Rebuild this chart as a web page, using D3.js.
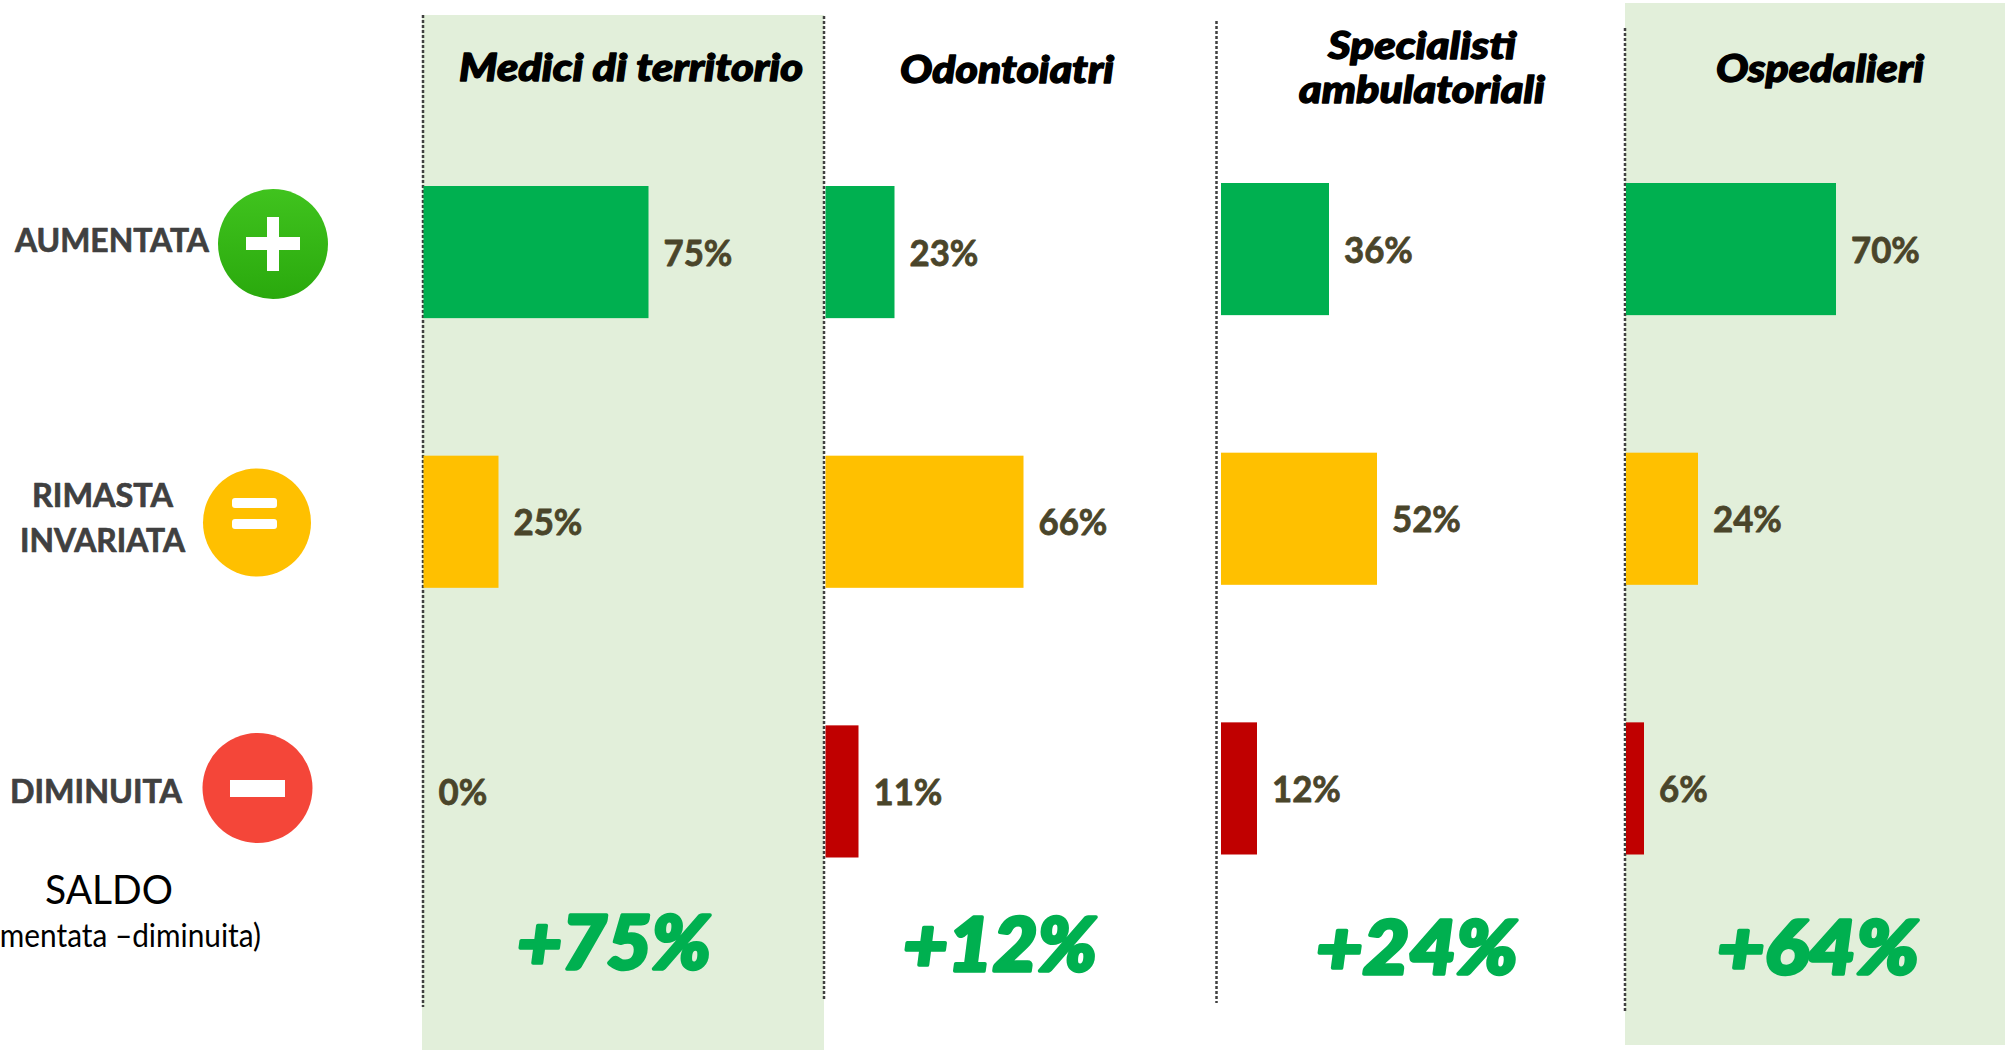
<!DOCTYPE html>
<html>
<head>
<meta charset="utf-8">
<script src="https://d3js.org/d3.v7.min.js"></script>
<style>
  body { margin: 0; background: #fff; overflow: hidden; }
  svg { display: block; }
  text { font-family: Lato, Carlito, sans-serif; stroke-linejoin: round; }
</style>
</head>
<body>
<div id="my_dataviz"></div>

<script>

  // the data
  const groups = ["Medici di territorio", "Odontoiatri", "Specialisti ambulatoriali", "Ospedalieri"]
  const rows = ["aumentata", "invariata", "diminuita"]
  const aumentata = [75, 23, 36, 70]
  const invariata = [25, 66, 52, 24]
  const diminuita = [0, 11, 12, 6]
  const saldo = [75, 12, 24, 64]

  const rowColors = ["#00b050", "#ffc000", "#c00000"]

  const width = 2005, height = 1050

  // where each column sits on the slide: bar start, vertical shift, dotted line
  const columns = [
    {x0: 423.5, dy: 0, line: 423, lineTop: 15, lineBottom: 1007, bg: [422, 15, 402, 1035]},
    {x0: 825.5, dy: 0, line: 824, lineTop: 16, lineBottom: 1000},
    {x0: 1221, dy: -3, line: 1216.5, lineTop: 21, lineBottom: 1003},
    {x0: 1626, dy: -3, line: 1625, lineTop: 28, lineBottom: 1011, bg: [1625, 3, 380, 1042]}
  ]

  // title lines: text, left, right, baseline
  const titleLines = [
    ["Medici di territorio", 459, 803, 81],
    ["Odontoiatri", 900, 1114, 83],
    ["Specialisti", 1328, 1516, 59],
    ["ambulatoriali", 1299, 1545, 103],
    ["Ospedalieri", 1716, 1924, 82]
  ]

  const saldoPos = [[517, 711, 969], [903, 1097, 971], [1316, 1518, 974], [1717, 1919, 974]]

  const svg = d3.select("#my_dataviz")
    .append("svg")
      .attr("width", width)
      .attr("height", height)

  // length of a bar in px, 3px for each percent point
  const x = d3.scaleLinear()
    .domain([0, 100])
    .range([0, 300])

  const y = d3.scaleBand()
    .domain(rows)
    .range([186, 857.5])
    .paddingInner(0.51)

  // green background of the first and last column
  svg.selectAll(".bg")
    .data(columns.filter(d => d.bg))
    .join("rect")
      .attr("class", "bg")
      .attr("x", d => d.bg[0])
      .attr("y", d => d.bg[1])
      .attr("width", d => d.bg[2])
      .attr("height", d => d.bg[3])
      .style("fill", "#e2efda")

  // dotted separators
  svg.selectAll(".sep")
    .data(columns)
    .join("line")
      .attr("class", "sep")
      .attr("x1", d => d.line)
      .attr("x2", d => d.line)
      .attr("y1", d => d.lineTop)
      .attr("y2", d => d.lineBottom)
      .style("stroke", "#404040")
      .style("stroke-width", 2.5)
      .style("stroke-dasharray", "3 2")

  // bars and labels, one group for each column
  const series = [aumentata, invariata, diminuita]
  groups.forEach(function(g, i) {
    const col = columns[i]
    const cells = rows.map((r, j) => ({row: r, value: series[j][i], color: rowColors[j]}))
    const gCol = svg.append("g")
      .attr("transform", `translate(${col.x0},${col.dy})`)

    gCol.selectAll("rect")
      .data(cells)
      .join("rect")
        .attr("x", 0)
        .attr("y", d => y(d.row))
        .attr("width", d => x(d.value))
        .attr("height", y.bandwidth())
        .style("fill", d => d.color)

    gCol.selectAll("text")
      .data(cells)
      .join("text")
        .attr("x", d => x(d.value) + 15)
        .attr("y", d => y(d.row) + y.bandwidth() / 2 + 13.5)
        .style("font-size", "37px")
        .style("font-weight", 700)
        .style("fill", "#4a452a")
        .style("stroke", "#4a452a")
        .style("stroke-width", 0.8)
        .text(d => d.value + "%")
        // the labels are a little narrower than Lato
        .attr("lengthAdjust", "spacingAndGlyphs")
        .attr("textLength", function() { return this.getComputedTextLength() * 0.94 })
  })

  // fits a text between two x positions, the original is stretched as well
  function fitted(sel) {
    return sel
      .attr("x", d => d[1])
      .attr("y", d => d[3])
      .attr("textLength", d => d[2] - d[1])
      .attr("lengthAdjust", "spacingAndGlyphs")
      .text(d => d[0])
  }

  // column titles
  svg.selectAll(".title")
    .data(titleLines)
    .join("text")
      .attr("class", "title")
      .style("font-size", "37px")
      .style("font-weight", 900)
      .style("font-style", "italic")
      .style("fill", "#000")
      .style("stroke", "#000")
      .style("stroke-width", 1.3)
      .call(fitted)

  // saldo row
  svg.selectAll(".saldo")
    .data(saldo.map((d, i) => ["+" + d + "%", saldoPos[i][0], saldoPos[i][1], saldoPos[i][2]]))
    .join("text")
      .attr("class", "saldo")
      .style("font-size", "75px")
      .style("font-weight", 900)
      .style("font-style", "italic")
      .style("fill", "#00b050")
      .style("stroke", "#00b050")
      .style("stroke-width", 3.5)
      .call(fitted)

  // row labels on the left
  const rowLabels = [
    ["AUMENTATA", 15, 209, 252],
    ["RIMASTA", 32, 173, 507],
    ["INVARIATA", 20, 185, 552],
    ["DIMINUITA", 10, 182, 803]
  ]
  svg.selectAll(".rowlabel")
    .data(rowLabels)
    .join("text")
      .attr("class", "rowlabel")
      .style("font-size", "33px")
      .style("font-weight", 700)
      .style("fill", "#404040")
      .style("stroke", "#404040")
      .style("stroke-width", 0.7)
      .call(fitted)

  svg.append("text")
    .datum(["SALDO", 45, 173, 904])
    .style("font-size", "41px")
    .style("fill", "#000")
    .call(fitted)

  // runs off the left edge of the slide, same as the original
  svg.append("text")
    .attr("x", 261)
    .attr("y", 947)
    .attr("text-anchor", "end")
    .attr("textLength", 300)
    .attr("lengthAdjust", "spacingAndGlyphs")
    .style("font-size", "32px")
    .style("fill", "#000")
    .text("(aumentata –diminuita)")

  // round icons
  const defs = svg.append("defs")
  const grad = defs.append("linearGradient")
    .attr("id", "plusFill")
    .attr("x1", 0).attr("x2", 0).attr("y1", 0).attr("y2", 1)
  grad.append("stop").attr("offset", "0%").attr("stop-color", "#40c31e")
  grad.append("stop").attr("offset", "100%").attr("stop-color", "#2aa90d")

  function icon(cx, cy, r, fill, bars) {
    const g = svg.append("g").attr("transform", `translate(${cx},${cy})`)
    g.append("circle").attr("r", r).style("fill", fill)
    g.selectAll("rect")
      .data(bars)
      .join("rect")
        .attr("x", d => d[0])
        .attr("y", d => d[1])
        .attr("width", d => d[2])
        .attr("height", d => d[3])
        .attr("rx", d => d[4] || 0)
        .style("fill", "#fff")
  }

  icon(273, 244, 55, "url(#plusFill)", [[-27, -7, 54, 13], [-6, -27, 12, 54]])
  icon(257, 522.5, 54, "#ffc000", [[-25, -24.5, 45, 10, 3], [-25, -3.5, 45, 10, 3]])
  icon(257.5, 788, 55, "#f44639", [[-27.5, -8, 55, 17]])

</script>
</body>
</html>
